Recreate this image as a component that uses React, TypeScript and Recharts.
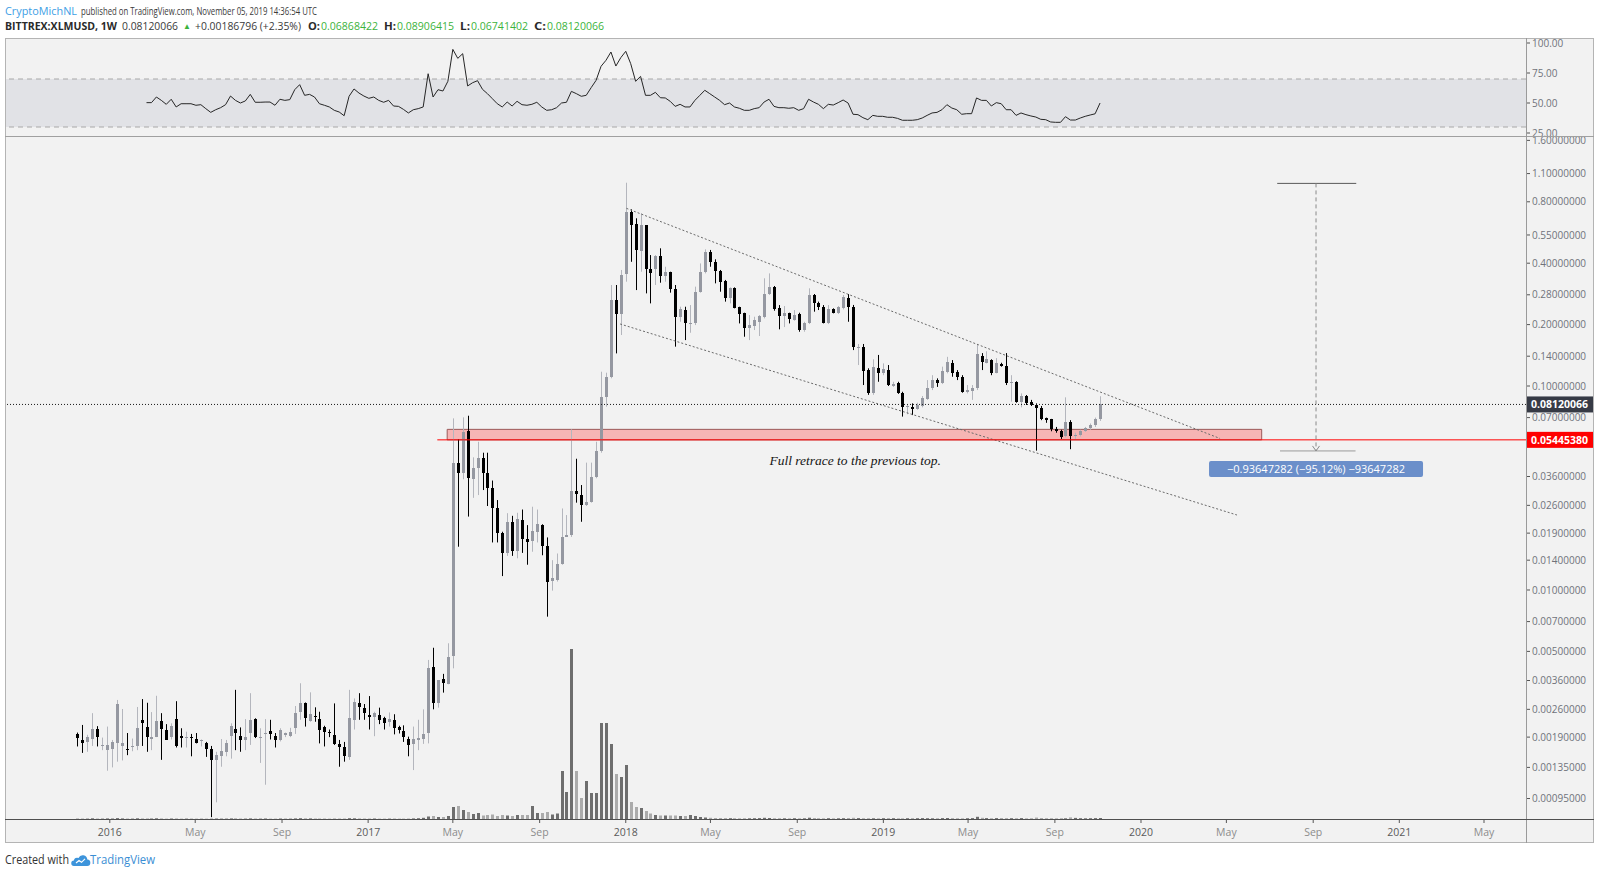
import React from 'react';
import {
  ComposedChart,
  Bar,
  Line,
  XAxis,
  YAxis,
  ReferenceLine,
  ReferenceArea,
  ReferenceDot,
} from 'recharts';

// ---------------- DATA (weekly BITTREX:XLMUSD) ----------------
const FIRST_WEEK = '2015-11-16';

const opens = [
  0.00196, 0.00184, 0.0018, 0.00187, 0.00208, 0.00172, 0.00165, 0.00167, 0.00178, 0.00172,
  0.00167, 0.00169, 0.00172, 0.0023, 0.00214, 0.00187, 0.0019, 0.00228, 0.00206, 0.00191,
  0.00234, 0.00192, 0.0019, 0.0019, 0.00186, 0.00182, 0.00177, 0.00167, 0.00147, 0.00154,
  0.00161, 0.00193, 0.00208, 0.00193, 0.00184, 0.002, 0.00232, 0.0019, 0.00196, 0.00204,
  0.00193, 0.00184, 0.00194, 0.00192, 0.0021, 0.00253, 0.0028, 0.00229, 0.0024, 0.00234,
  0.00213, 0.00201, 0.00194, 0.00175, 0.00169, 0.00151, 0.00231, 0.0028, 0.00263, 0.00244,
  0.00238, 0.00244, 0.00235, 0.00225, 0.00231, 0.00212, 0.00204, 0.00187, 0.00176, 0.00183,
  0.00185, 0.002, 0.00421, 0.00278, 0.00365, 0.00345, 0.00475, 0.0421, 0.0373, 0.0604,
  0.0349, 0.0395, 0.0442, 0.0376, 0.0315, 0.0253, 0.019, 0.0151, 0.0216, 0.0156,
  0.022, 0.0178, 0.0174, 0.0193, 0.0208, 0.0164, 0.0111, 0.0112, 0.0134, 0.0182,
  0.0185, 0.0307, 0.0292, 0.0261, 0.0271, 0.0359, 0.0482, 0.0887, 0.1111, 0.264,
  0.2245, 0.354, 0.7154, 0.6227, 0.4608, 0.6154, 0.3745, 0.3745, 0.4339, 0.3459,
  0.3606, 0.2988, 0.2169, 0.2357, 0.2027, 0.2027, 0.2899, 0.3633, 0.4555, 0.4064,
  0.3675, 0.3273, 0.269, 0.3033, 0.243, 0.227, 0.1918, 0.1967, 0.2065, 0.2169,
  0.2825, 0.3044, 0.2421, 0.2211, 0.227, 0.2106, 0.2253, 0.1881, 0.2027, 0.2793,
  0.2561, 0.2447, 0.2042, 0.2375, 0.2287, 0.2403, 0.271, 0.2447, 0.153, 0.1559,
  0.1197, 0.0927, 0.123, 0.1154, 0.1197, 0.1, 0.103, 0.0927, 0.0786, 0.0786,
  0.0769, 0.0798, 0.0864, 0.0974, 0.1069, 0.1038, 0.1175, 0.13, 0.1175, 0.1103,
  0.0937, 0.0948, 0.0974, 0.1403, 0.13, 0.134, 0.1162, 0.1281, 0.1253, 0.103,
  0.1049, 0.0838, 0.0893, 0.0838, 0.0807, 0.0777, 0.0694, 0.0686, 0.0617, 0.0602,
  0.0569, 0.0668, 0.0569, 0.0575, 0.0604, 0.062, 0.0644, 0.06868422,
];

const highs = [
  0.002, 0.00218, 0.00195, 0.00249, 0.00215, 0.00189, 0.00214, 0.00184, 0.00289, 0.00261,
  0.00199, 0.00187, 0.00267, 0.00292, 0.0028, 0.00252, 0.00303, 0.00249, 0.0022, 0.00222,
  0.00285, 0.0021, 0.00202, 0.00197, 0.00199, 0.00185, 0.0018, 0.00172, 0.00161, 0.00186,
  0.00184, 0.00222, 0.00324, 0.00212, 0.00233, 0.00312, 0.00235, 0.0021, 0.00233, 0.00231,
  0.00199, 0.0021, 0.002, 0.00211, 0.0027, 0.00349, 0.00281, 0.00315, 0.00266, 0.00253,
  0.00216, 0.00207, 0.00278, 0.00184, 0.0018, 0.00324, 0.00294, 0.00312, 0.00276, 0.00302,
  0.00253, 0.00265, 0.00239, 0.00251, 0.00246, 0.00216, 0.00217, 0.00191, 0.00214, 0.00231,
  0.0026, 0.00454, 0.00521, 0.00362, 0.00388, 0.00548, 0.0694, 0.0548, 0.0702, 0.0715,
  0.0447, 0.0533, 0.0471, 0.0471, 0.0344, 0.0276, 0.0193, 0.0238, 0.0231, 0.0239,
  0.0248, 0.0208, 0.0256, 0.0248, 0.021, 0.0181, 0.014, 0.0151, 0.0251, 0.0233,
  0.0613, 0.044, 0.0327, 0.0421, 0.0421, 0.0533, 0.1175, 0.1162, 0.3127, 0.3127,
  0.3705, 0.992, 0.7345, 0.664, 0.702, 0.6154, 0.4385, 0.4385, 0.4732, 0.3843,
  0.3633, 0.3127, 0.2447, 0.2447, 0.2493, 0.3069, 0.399, 0.4677, 0.4645, 0.4178,
  0.3705, 0.3311, 0.3044, 0.3044, 0.2447, 0.2287, 0.2228, 0.2186, 0.2228, 0.3373,
  0.3565, 0.3092, 0.2493, 0.2466, 0.2287, 0.2357, 0.2287, 0.2065, 0.3012, 0.2825,
  0.2592, 0.2493, 0.2493, 0.2403, 0.2466, 0.2793, 0.2825, 0.2497, 0.1607, 0.1607,
  0.1221, 0.1352, 0.142, 0.1291, 0.1267, 0.1049, 0.1049, 0.0937, 0.0807, 0.0822,
  0.0828, 0.0893, 0.1069, 0.113, 0.109, 0.1244, 0.139, 0.134, 0.1197, 0.113,
  0.1011, 0.1011, 0.1607, 0.145, 0.148, 0.1352, 0.137, 0.13, 0.145, 0.113,
  0.1055, 0.092, 0.0903, 0.0855, 0.0822, 0.0798, 0.07, 0.069, 0.063, 0.061,
  0.088, 0.068, 0.059, 0.061, 0.063, 0.0655, 0.07, 0.08906415,
];

const lows = [
  0.00171, 0.00159, 0.00161, 0.00172, 0.00171, 0.00164, 0.0013, 0.00135, 0.00144, 0.00146,
  0.00155, 0.00162, 0.00164, 0.00172, 0.00161, 0.00164, 0.0019, 0.00147, 0.00184, 0.00185,
  0.00169, 0.00169, 0.00169, 0.00153, 0.00177, 0.00171, 0.00152, 0.00077, 0.00091, 0.00136,
  0.00153, 0.00149, 0.00164, 0.00161, 0.00164, 0.00174, 0.00188, 0.00142, 0.00111, 0.00185,
  0.00169, 0.00181, 0.0019, 0.0019, 0.00197, 0.00231, 0.00214, 0.00226, 0.00226, 0.00177,
  0.00171, 0.0019, 0.00174, 0.00136, 0.00144, 0.00147, 0.00207, 0.00231, 0.00231, 0.00207,
  0.00192, 0.0022, 0.00207, 0.00214, 0.00196, 0.00198, 0.0018, 0.00153, 0.00131, 0.00164,
  0.00176, 0.00177, 0.0026, 0.00265, 0.00314, 0.00345, 0.00413, 0.0163, 0.0349, 0.0229,
  0.0283, 0.0292, 0.0309, 0.0258, 0.0171, 0.0171, 0.0117, 0.0147, 0.0147, 0.0143,
  0.0152, 0.0133, 0.0154, 0.0171, 0.0148, 0.0074, 0.00993, 0.011, 0.0133, 0.0182,
  0.0182, 0.0268, 0.0216, 0.0258, 0.0268, 0.0353, 0.0471, 0.0792, 0.1091, 0.1445,
  0.1778, 0.3246, 0.4064, 0.2953, 0.3633, 0.2845, 0.2541, 0.3127, 0.3209, 0.3246,
  0.2868, 0.1559, 0.2065, 0.1679, 0.1824, 0.1989, 0.2868, 0.3565, 0.3843, 0.3186,
  0.2899, 0.2592, 0.2541, 0.2403, 0.2027, 0.1744, 0.1679, 0.1881, 0.1758, 0.2145,
  0.2793, 0.234, 0.1896, 0.1945, 0.2027, 0.2089, 0.1845, 0.1845, 0.2012, 0.2314,
  0.2357, 0.2027, 0.2012, 0.227, 0.2253, 0.2375, 0.2065, 0.15, 0.1267, 0.1011,
  0.0905, 0.0905, 0.1049, 0.113, 0.1, 0.099, 0.0915, 0.0708, 0.0727, 0.072,
  0.0765, 0.0786, 0.0855, 0.0955, 0.099, 0.1022, 0.1154, 0.111, 0.1069, 0.0927,
  0.092, 0.0855, 0.0955, 0.1197, 0.1291, 0.113, 0.1154, 0.1244, 0.1011, 0.0838,
  0.0828, 0.0786, 0.0807, 0.0798, 0.0482, 0.068, 0.066, 0.06, 0.059, 0.055,
  0.056, 0.049, 0.055, 0.0565, 0.0595, 0.061, 0.063, 0.06741402,
];

const closes = [
  0.00189, 0.00177, 0.0019, 0.00208, 0.0019, 0.00174, 0.00173, 0.0018, 0.00275, 0.00177,
  0.00165, 0.00172, 0.0021, 0.00223, 0.0019, 0.0019, 0.00228, 0.00208, 0.00184, 0.00215,
  0.00172, 0.00189, 0.00191, 0.00189, 0.00178, 0.00184, 0.00167, 0.00146, 0.00155, 0.00163,
  0.00177, 0.00216, 0.00198, 0.00183, 0.0019, 0.00231, 0.0019, 0.00191, 0.00198, 0.00196,
  0.00183, 0.00205, 0.00198, 0.00202, 0.00249, 0.00278, 0.00237, 0.00247, 0.00238, 0.00207,
  0.00202, 0.00199, 0.00176, 0.00169, 0.00153, 0.00237, 0.00281, 0.00266, 0.00249, 0.00239,
  0.00249, 0.00231, 0.00224, 0.00232, 0.0021, 0.00207, 0.00191, 0.00174, 0.00185, 0.00189,
  0.00197, 0.00413, 0.00278, 0.00362, 0.00349, 0.00471, 0.0421, 0.0373, 0.0597, 0.0353,
  0.0395, 0.0442, 0.0376, 0.0315, 0.0253, 0.019, 0.0151, 0.0216, 0.0156, 0.0222,
  0.0177, 0.0172, 0.0195, 0.0211, 0.0164, 0.011, 0.0114, 0.0134, 0.0182, 0.0185,
  0.0307, 0.0294, 0.0261, 0.0271, 0.0359, 0.0482, 0.0887, 0.1111, 0.264, 0.2245,
  0.35, 0.7154, 0.6154, 0.4645, 0.6154, 0.3745, 0.3565, 0.4355, 0.3459, 0.3633,
  0.2988, 0.2169, 0.2375, 0.2027, 0.2042, 0.2899, 0.3633, 0.4555, 0.4064, 0.3675,
  0.3246, 0.269, 0.3033, 0.2421, 0.2253, 0.1918, 0.1989, 0.2106, 0.2203, 0.2825,
  0.3069, 0.2384, 0.2211, 0.2287, 0.2121, 0.2228, 0.1881, 0.2027, 0.2793, 0.2561,
  0.243, 0.2042, 0.2375, 0.2287, 0.243, 0.2721, 0.2447, 0.1559, 0.1559, 0.1185,
  0.0927, 0.1244, 0.1154, 0.1206, 0.1011, 0.1022, 0.092, 0.0786, 0.0798, 0.0769,
  0.0807, 0.087, 0.0974, 0.1069, 0.103, 0.1188, 0.1315, 0.1162, 0.1103, 0.0937,
  0.0955, 0.0974, 0.143, 0.1315, 0.1352, 0.1162, 0.1291, 0.1253, 0.103, 0.1049,
  0.0838, 0.0893, 0.0828, 0.0807, 0.0777, 0.0692, 0.0681, 0.0615, 0.0604, 0.0565,
  0.0668, 0.0569, 0.0575, 0.0602, 0.062, 0.0644, 0.0687, 0.08120066,
];

// relative weekly volume (arbitrary units)
const volumes = [
  0.6, 0.5, 0.4, 0.7, 0.5, 0.4, 0.6, 0.5, 0.9, 0.6,
  0.5, 0.4, 0.7, 0.6, 0.6, 0.5, 0.7, 0.6, 0.4, 0.5,
  0.6, 0.4, 0.4, 0.5, 0.4, 0.3, 0.4, 0.6, 0.5, 0.4,
  0.4, 0.6, 0.7, 0.5, 0.4, 0.6, 0.5, 0.4, 0.5, 0.4,
  0.4, 0.5, 0.3, 0.4, 0.6, 0.8, 0.7, 0.6, 0.5, 0.5,
  0.5, 0.4, 0.6, 0.5, 0.5, 0.8, 0.7, 0.6, 0.5, 0.5,
  0.5, 0.4, 0.4, 0.4, 0.5, 0.4, 0.4, 0.5, 0.6, 0.8,
  1.2, 2.5, 3, 2, 2, 3, 12, 13, 9, 7,
  5, 6, 3.5, 4, 4.5, 3, 4, 3.5, 3, 4,
  4, 4, 13, 6, 6, 7, 4.5, 5.5, 48, 27,
  170, 48, 21, 38, 26, 26, 96, 96, 75, 45,
  42, 54, 17, 12, 11, 8, 5.5, 4, 3.5, 3.5,
  3.5, 3.5, 3, 3, 4, 3, 2, 1.5, 1.2, 1,
  1, 0.9, 0.8, 0.8, 0.7, 0.8, 0.7, 0.8, 0.9, 1.2,
  1, 0.8, 0.8, 0.7, 0.7, 0.8, 0.7, 0.7, 1.3, 1,
  0.8, 0.7, 0.8, 0.7, 0.7, 0.8, 1, 1.2, 0.9, 0.8,
  0.8, 0.7, 0.7, 0.8, 0.9, 0.8, 0.7, 0.7, 0.8, 0.9,
  0.8, 0.9, 0.8, 0.7, 0.8, 0.9, 1, 0.9, 0.8, 0.7,
  0.8, 0.9, 2.2, 1.2, 0.9, 0.8, 0.9, 1, 0.9, 0.8,
  0.8, 0.9, 0.7, 0.8, 1.4, 1, 0.8, 0.8, 0.7, 0.8,
  0.7, 1.6, 1.1, 0.8, 0.7, 0.8, 0.9, 1,
];

// RSI(14), first value on the 15th weekly bar
const RSI_FIRST_INDEX = 14;
const rsiValues = [
  50.3, 50.3, 55, 52.2, 48.9, 53.1, 46.7, 49.4, 49.4, 49.4,
  48.1, 48.6, 45.3, 42.2, 44.4, 46.1, 48.6, 55.8, 52.2, 50,
  51.7, 57.2, 50.6, 50.6, 50.8, 50.8, 48.1, 53.1, 52.2, 52.8,
  61.1, 65.3, 56.4, 57.2, 55, 49.4, 48.1, 46.7, 43.9, 42.5,
  39.4, 55.6, 61.7, 58.3, 55.8, 53.9, 55, 52.2, 50.6, 52.2,
  47.5, 47.2, 44.7, 41.7, 44.4, 45.3, 46.7, 74.4, 55, 61.1,
  60, 68.1, 94.7, 87.2, 91.1, 64.2, 66.9, 68.6, 61.4, 57.8,
  53.6, 49.4, 46.7, 50.8, 47.5, 51.4, 48.6, 48.1, 48.9, 50.6,
  46.7, 43.9, 44.4, 46.1, 50, 50.6, 59.7, 57.8, 55.6, 56.4,
  62.8, 68.9, 80.6, 85.6, 92.5,
  80.8, 87.8, 93.1, 82.8, 68.1, 72.2, 56.4, 56.4, 58.9, 54.4,
  54.2, 51.4, 47.2, 48.9, 46.7, 46.7, 52.2, 56.4, 60.6, 57.8,
  55, 52.2, 48.6, 50, 46.7, 45.6, 43.9, 43.9, 45.3, 46.1,
  50.8, 53.1, 47.2, 46.1, 46.1, 45.6, 46.1, 43.9, 45.3, 53.1,
  50.8, 48.9, 45.3, 48.9, 48.3, 50.3, 52.5, 50, 40.6, 40.3,
  37.8, 36.1, 39.7, 38.9, 38.9, 38.1, 38.1, 37.2, 35.6, 35.6,
  35.6, 36.1, 37.5, 39.7, 41.7, 42.2, 44.4, 48.6, 45.8, 44.4,
  40.6, 41.1, 41.1, 54.2, 52.2, 52.2, 47.5, 50.3, 49.4, 44.4,
  44.4, 39.7, 41.7, 40.3, 39.2, 38.3, 36.4, 36.1, 34.2, 33.9,
  33.9, 38.6, 35.8, 35.8, 37.5, 38.9, 40, 41, 50,
];

const priceTicks = [
  1.6, 1.1, 0.8, 0.55, 0.4, 0.28, 0.2, 0.14, 0.1, 0.07, 0.036, 0.026, 0.019, 0.014, 0.01,
  0.007, 0.005, 0.0036, 0.0026, 0.0019, 0.00135, 0.00095,
];
const rsiTicks = [100, 75, 50, 25];
const timeTickDates = [
  '2016-01-01', '2016-05-01', '2016-09-01', '2017-01-01', '2017-05-01', '2017-09-01',
  '2018-01-01', '2018-05-01', '2018-09-01', '2019-01-01', '2019-05-01', '2019-09-01',
  '2020-01-01', '2020-05-01', '2020-09-01', '2021-01-01', '2021-05-01',
];
const timeTickLabels = [
  '2016', 'May', 'Sep', '2017', 'May', 'Sep', '2018', 'May', 'Sep', '2019', 'May', 'Sep',
  '2020', 'May', 'Sep', '2021', 'May',
];

// drawings
const LAST_PRICE = 0.08120066;
const SUPPORT_PRICE = 0.0544538;
const ZONE_TOP_PRICE = 0.0613;
const ZONE_START = '2017-04-23';
const ZONE_END = '2020-06-20';
const SUPPORT_LINE_START = '2017-04-09';
const upperTrend = [
  { date: '2018-01-02', price: 0.743 },
  { date: '2020-04-22', price: 0.0553 },
];
const lowerTrend = [
  { date: '2017-12-24', price: 0.2014 },
  { date: '2020-05-16', price: 0.02331 },
];
const MEASURE_DATE = '2020-09-05';
const MEASURE_FROM = 0.98452;
const MEASURE_TO = 0.04805;
const MEASURE_TOP_SPAN = ['2020-07-12', '2020-11-01'];
const MEASURE_BOTTOM_SPAN = ['2020-07-16', '2020-10-31'];
const MEASURE_LABEL_PRICE = 0.0392;
const MEASURE_TEXT = '\u22120.93647282 (\u221295.12%) \u221293647282';
const NOTE_DATE = '2018-11-22';
const NOTE_PRICE = 0.0429;
const NOTE_TEXT = 'Full retrace to the previous top.';

// ---------------- helpers ----------------
const EPOCH = Date.UTC(2016, 0, 1);
const dayOf = (s: string) => (Date.parse(s + 'T00:00:00Z') - EPOCH) / 86400000;

const X_MIN = -148.5;
const X_MAX = 2006.5;
const Y_MIN = 0.000754;
const Y_MAX = 1.681;
const RSI_MIN = 22.5;
const RSI_MAX = 104.17;
const VOL_MAX = 683;

const W = 1600;
const H = 876;
const PLOT_LEFT = 5;
const PLOT_RIGHT = 1526;
const RIGHT_EDGE = 1594;
const RSI_TOP = 38;
const MAIN_TOP = 136;
const MAIN_BOTTOM = 819;
const FRAME_BOTTOM = 843;

const FONT = "'Open Sans', 'Liberation Sans', Arial, sans-serif";
const UP_BODY = '#9598a1';
const UP_WICK = '#b4b6bd';
const DOWN = '#000000';
const VOL_UP = '#6e6e6e';
const VOL_DOWN = '#ababab';

const firstDay = dayOf(FIRST_WEEK);
const rows = opens.map((o, i) => ({
  t: firstDay + 7 * i,
  open: o,
  high: highs[i],
  low: lows[i],
  close: closes[i],
  range: [lows[i], highs[i]],
  vol: volumes[i],
  up: closes[i] >= o,
  rsi: i >= RSI_FIRST_INDEX ? rsiValues[i - RSI_FIRST_INDEX] : null,
}));

const tickLabelByDay = new Map<number, string>(
  timeTickDates.map((d, i) => [dayOf(d), timeTickLabels[i]] as [number, string])
);
const timeTicks = timeTickDates.map(dayOf);

// ---------------- shapes ----------------
function CandleShape(props: any) {
  const { x, y, width, height, payload } = props;
  if (x == null || y == null || !payload) return null;
  const top = Math.min(y, y + height);
  const bottom = Math.max(y, y + height);
  const cx = Math.round(x + width / 2);
  const lh = Math.log(payload.high);
  const ll = Math.log(payload.low);
  const span = lh - ll || 1;
  const yAt = (p: number) => top + ((bottom - top) * (lh - Math.log(p))) / span;
  const up = payload.close >= payload.open;
  const yo = yAt(payload.open);
  const yc = yAt(payload.close);
  const bTop = Math.min(yo, yc);
  const bH = Math.max(1, Math.abs(yo - yc));
  return (
    <g>
      <line x1={cx + 0.5} x2={cx + 0.5} y1={top} y2={bottom} stroke={up ? UP_WICK : DOWN} strokeWidth={1} />
      <rect x={cx - 1} y={bTop} width={3} height={bH} fill={up ? UP_BODY : DOWN} shapeRendering="crispEdges" />
    </g>
  );
}

function VolumeShape(props: any) {
  const { x, y, width, height, payload } = props;
  if (x == null || y == null || !payload) return null;
  const top = Math.min(y, y + height);
  const h = Math.abs(height);
  const cx = Math.round(x + width / 2);
  return <rect x={cx - 1} y={top} width={3} height={h} fill={payload.up ? VOL_UP : VOL_DOWN} />;
}

function DateTick(props: any) {
  const { x, y, payload } = props;
  const label = tickLabelByDay.get(payload.value) ?? '';
  const isYear = /^\d{4}$/.test(label);
  return (
    <text x={x} y={y + 11} textAnchor="middle" fontSize={10.5} fontFamily={FONT} fill={isYear ? '#5a5a5a' : '#8c8c8c'}>
      {label}
    </text>
  );
}

function PriceTick(props: any) {
  const { x, y, payload } = props;
  return (
    <text x={x} y={y} dy={3.6} textAnchor="start" fontSize={10} fontFamily={FONT} fill="#70737b">
      {Number(payload.value).toFixed(8)}
    </text>
  );
}

function RsiTick(props: any) {
  const { x, y, payload } = props;
  return (
    <g>
      <defs>
        <clipPath id="rsi-axis-clip">
          <rect x={PLOT_RIGHT + 1} y={RSI_TOP} width={RIGHT_EDGE - PLOT_RIGHT - 1} height={MAIN_TOP - RSI_TOP} />
        </clipPath>
      </defs>
      <text x={x} y={y} dy={3.6} textAnchor="start" fontSize={10} fontFamily={FONT} fill="#70737b" clipPath="url(#rsi-axis-clip)">
        {Number(payload.value).toFixed(2)}
      </text>
    </g>
  );
}

const makeTag = (text: string, bg: string) => (props: any) => {
  const vb = props.viewBox;
  if (!vb) return null;
  const x = vb.x + vb.width + 1;
  const y = vb.y;
  return (
    <g>
      <rect x={x} y={y - 8} width={67} height={16} fill={bg} />
      <text x={x + 4} y={y + 4} fontSize={10.5} fontWeight="bold" fontFamily={FONT} fill="#ffffff">
        {text}
      </text>
    </g>
  );
};

const NoteShape = (props: any) => (
  <text
    x={props.cx}
    y={props.cy}
    dy={4}
    textAnchor="middle"
    fontSize={13.5}
    fontStyle="italic"
    fontFamily="'Liberation Serif', 'DejaVu Serif', serif"
    fill="#151515"
  >
    {NOTE_TEXT}
  </text>
);

const MeasureLabelShape = (props: any) => (
  <g>
    <rect x={props.cx - 107} y={props.cy - 8} width={214} height={16} rx={2} fill="#6b8fca" />
    <text x={props.cx} y={props.cy + 4} textAnchor="middle" fontSize={11} fontFamily={FONT} fill="#ffffff">
      {MEASURE_TEXT}
    </text>
  </g>
);

const ArrowShape = (props: any) => (
  <path
    d={`M${props.cx - 3.5},${props.cy - 5} L${props.cx},${props.cy} L${props.cx + 3.5},${props.cy - 5}`}
    fill="none"
    stroke="#8a8a8a"
    strokeWidth={1}
  />
);

// ---------------- component ----------------
export default function App() {
  const layer: React.CSSProperties = { position: 'absolute', left: 0, top: 0 };
  const fit = { lengthAdjust: 'spacingAndGlyphs' as const };
  return (
    <div style={{ position: 'absolute', left: 0, top: 0, width: W, height: H, background: '#ffffff', overflow: 'hidden' }}>
      {/* panel backgrounds */}
      <svg width={W} height={H} style={layer}>
        <rect x={PLOT_LEFT} y={RSI_TOP} width={RIGHT_EDGE - PLOT_LEFT} height={FRAME_BOTTOM - RSI_TOP} fill="#f2f2f2" />
      </svg>

      {/* volume */}
      <div style={layer}>
        <ComposedChart width={W} height={H} data={rows} margin={{ top: MAIN_TOP, right: W - PLOT_RIGHT, bottom: H - MAIN_BOTTOM, left: PLOT_LEFT }}>
          <XAxis type="number" dataKey="t" domain={[X_MIN, X_MAX]} allowDataOverflow hide />
          <YAxis type="number" domain={[0, VOL_MAX]} allowDataOverflow hide />
          <Bar dataKey="vol" barSize={3} shape={VolumeShape} isAnimationActive={false} />
        </ComposedChart>
      </div>

      {/* main price pane */}
      <div style={layer}>
        <ComposedChart width={W} height={H} data={rows} margin={{ top: MAIN_TOP, right: W - RIGHT_EDGE, bottom: H - MAIN_BOTTOM - 24, left: PLOT_LEFT }}>
          <XAxis
            type="number"
            dataKey="t"
            domain={[X_MIN, X_MAX]}
            allowDataOverflow
            ticks={timeTicks}
            interval={0}
            tick={DateTick}
            tickSize={4}
            tickMargin={2}
            tickLine={{ stroke: '#555' }}
            axisLine={false}
            height={24}
          />
          <YAxis
            orientation="right"
            type="number"
            scale="log"
            domain={[Y_MIN, Y_MAX]}
            allowDataOverflow
            ticks={priceTicks}
            interval={0}
            tick={PriceTick}
            tickSize={4}
            tickMargin={2}
            tickLine={{ stroke: '#555' }}
            axisLine={false}
            width={RIGHT_EDGE - PLOT_RIGHT}
          />
          <ReferenceArea
            x1={dayOf(ZONE_START)}
            x2={dayOf(ZONE_END)}
            y1={SUPPORT_PRICE}
            y2={ZONE_TOP_PRICE}
            fill="#f6b5b4"
            fillOpacity={1}
            stroke="#9c5a5a"
            strokeWidth={1}
          />
          <Bar dataKey="range" barSize={3} shape={CandleShape} isAnimationActive={false} />
          <ReferenceLine
            segment={[
              { x: dayOf(upperTrend[0].date), y: upperTrend[0].price },
              { x: dayOf(upperTrend[1].date), y: upperTrend[1].price },
            ]}
            stroke="#6a6a6a"
            strokeDasharray="2 2"
          />
          <ReferenceLine
            segment={[
              { x: dayOf(lowerTrend[0].date), y: lowerTrend[0].price },
              { x: dayOf(lowerTrend[1].date), y: lowerTrend[1].price },
            ]}
            stroke="#6a6a6a"
            strokeDasharray="2 2"
          />
          <ReferenceLine
            segment={[
              { x: dayOf(SUPPORT_LINE_START), y: SUPPORT_PRICE },
              { x: X_MAX, y: SUPPORT_PRICE },
            ]}
            stroke="#ff0000"
            strokeWidth={1}
            label={makeTag(SUPPORT_PRICE.toFixed(8), '#ff0000')}
          />
          <ReferenceLine
            y={LAST_PRICE}
            stroke="#1c1c1c"
            strokeDasharray="1 2"
            label={makeTag(LAST_PRICE.toFixed(8), '#363a45')}
          />
          <ReferenceLine
            segment={[
              { x: dayOf(MEASURE_TOP_SPAN[0]), y: MEASURE_FROM },
              { x: dayOf(MEASURE_TOP_SPAN[1]), y: MEASURE_FROM },
            ]}
            stroke="#5a5a5a"
          />
          <ReferenceLine
            segment={[
              { x: dayOf(MEASURE_BOTTOM_SPAN[0]), y: MEASURE_TO },
              { x: dayOf(MEASURE_BOTTOM_SPAN[1]), y: MEASURE_TO },
            ]}
            stroke="#9a9a9a"
          />
          <ReferenceLine
            segment={[
              { x: dayOf(MEASURE_DATE), y: MEASURE_FROM },
              { x: dayOf(MEASURE_DATE), y: MEASURE_TO },
            ]}
            stroke="#8a8a8a"
            strokeDasharray="4 3"
          />
          <ReferenceDot x={dayOf(MEASURE_DATE)} y={MEASURE_TO} r={0} shape={ArrowShape} />
          <ReferenceDot x={dayOf(MEASURE_DATE)} y={MEASURE_LABEL_PRICE} r={0} shape={MeasureLabelShape} />
          <ReferenceDot x={dayOf(NOTE_DATE)} y={NOTE_PRICE} r={0} shape={NoteShape} />
        </ComposedChart>
      </div>

      {/* RSI pane */}
      <div style={layer}>
        <ComposedChart width={W} height={H} data={rows} margin={{ top: RSI_TOP, right: W - RIGHT_EDGE, bottom: H - MAIN_TOP, left: PLOT_LEFT }}>
          <XAxis type="number" dataKey="t" domain={[X_MIN, X_MAX]} allowDataOverflow hide />
          <YAxis
            orientation="right"
            type="number"
            domain={[RSI_MIN, RSI_MAX]}
            allowDataOverflow
            ticks={rsiTicks}
            interval={0}
            tick={RsiTick}
            tickSize={4}
            tickMargin={2}
            tickLine={{ stroke: '#555' }}
            axisLine={false}
            width={RIGHT_EDGE - PLOT_RIGHT}
          />
          <ReferenceArea y1={30} y2={70} fill="#e1e2e6" fillOpacity={1} stroke="none" />
          <ReferenceLine y={70} stroke="#a8a8a8" strokeDasharray="5 4" />
          <ReferenceLine y={30} stroke="#a8a8a8" strokeDasharray="5 4" />
          <Line type="linear" dataKey="rsi" stroke="#262626" strokeWidth={1} dot={false} isAnimationActive={false} connectNulls={false} />
        </ComposedChart>
      </div>

      {/* frame lines, header and footer */}
      <svg width={W} height={H} style={{ ...layer, pointerEvents: 'none' }}>
        <rect x={PLOT_LEFT + 0.5} y={RSI_TOP + 0.5} width={RIGHT_EDGE - PLOT_LEFT - 1} height={FRAME_BOTTOM - RSI_TOP - 1} fill="none" stroke="#b4b4b4" />
        <line x1={PLOT_LEFT} x2={RIGHT_EDGE} y1={MAIN_TOP + 0.5} y2={MAIN_TOP + 0.5} stroke="#a0a0a0" />
        <line x1={PLOT_RIGHT + 0.5} x2={PLOT_RIGHT + 0.5} y1={RSI_TOP} y2={FRAME_BOTTOM} stroke="#9a9a9a" />
        <line x1={PLOT_LEFT} x2={RIGHT_EDGE} y1={MAIN_BOTTOM + 0.5} y2={MAIN_BOTTOM + 0.5} stroke="#4f4f4f" />

        <text x={5} y={15} fontSize={10.5} fontFamily={FONT} fill="#3c9ee5" textLength={72} {...fit}>
          CryptoMichNL
        </text>
        <text x={81} y={15} fontSize={10.5} fontFamily={FONT} fill="#3a3a3a" textLength={236} {...fit}>
          published on TradingView.com, November 05, 2019 14:36:54 UTC
        </text>

        <g fontFamily={FONT} fontSize={10.4}>
          <text x={5} y={30} fontWeight="bold" fill="#2a2a2a" textLength={112} {...fit}>BITTREX:XLMUSD, 1W</text>
          <text x={122} y={30} fill="#3a3a3a" textLength={56} {...fit}>0.08120066</text>
          <text x={183} y={29} fill="#3bb33b" fontSize={8}>{'\u25B2'}</text>
          <text x={195} y={30} fill="#3a3a3a" textLength={106} {...fit}>+0.00186796 (+2.35%)</text>
          <text x={308} y={30} fontWeight="bold" fill="#2a2a2a" textLength={12} {...fit}>O:</text>
          <text x={321} y={30} fill="#3bb33b" textLength={57} {...fit}>0.06868422</text>
          <text x={384} y={30} fontWeight="bold" fill="#2a2a2a" textLength={12} {...fit}>H:</text>
          <text x={397} y={30} fill="#3bb33b" textLength={57} {...fit}>0.08906415</text>
          <text x={460} y={30} fontWeight="bold" fill="#2a2a2a" textLength={10} {...fit}>L:</text>
          <text x={471} y={30} fill="#3bb33b" textLength={57} {...fit}>0.06741402</text>
          <text x={534} y={30} fontWeight="bold" fill="#2a2a2a" textLength={12} {...fit}>C:</text>
          <text x={547} y={30} fill="#3bb33b" textLength={57} {...fit}>0.08120066</text>
        </g>

        <text x={5} y={864} fontSize={12.5} fontFamily={FONT} fill="#333333" textLength={64} {...fit}>
          Created with
        </text>
        <g>
          <path d="M74,866 h13 a3.2,3.2 0 0 0 0.3,-6.4 a4.6,4.6 0 0 0 -8.8,-1.6 a3.2,3.2 0 0 0 -4.6,2.6 a2.7,2.7 0 0 0 0.1,5.4 z" fill="#3d94db" />
          <path d="M76,863 l3,-2.5 l2.5,1.8 l3.5,-3.5" fill="none" stroke="#ffffff" strokeWidth={1.2} />
        </g>
        <text x={90} y={864} fontSize={12.5} fontFamily={FONT} fill="#3a8ed4" textLength={65} {...fit}>
          TradingView
        </text>
      </svg>
    </div>
  );
}
